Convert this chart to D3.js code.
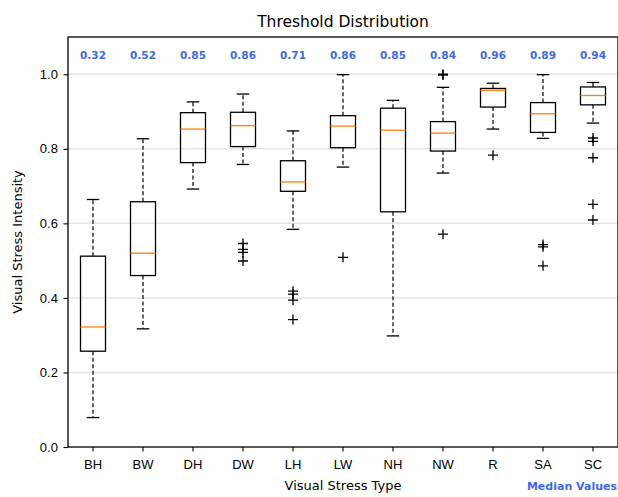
<!DOCTYPE html>
<html>
<head>
<meta charset="utf-8">
<script src="https://cdn.jsdelivr.net/npm/d3@7"></script>
<style>
  body { margin: 0; background: #fff; }
  svg { display: block; font-family: 'DejaVu Sans', sans-serif; }
</style>
</head>
<body>
<svg id="chart" width="618" height="497"></svg>
<script>
const categories = ['BH', 'BW', 'DH', 'DW', 'LH', 'LW', 'NH', 'NW', 'R', 'SA', 'SC']
const whiskerLow = [0.079, 0.317, 0.692, 0.758, 0.584, 0.751, 0.298, 0.735, 0.853, 0.828, 0.869]
const q1 = [0.257, 0.460, 0.763, 0.806, 0.686, 0.803, 0.631, 0.794, 0.912, 0.844, 0.918]
const medians = [0.322, 0.520, 0.853, 0.862, 0.711, 0.861, 0.850, 0.842, 0.957, 0.894, 0.943]
const q3 = [0.512, 0.658, 0.897, 0.898, 0.768, 0.889, 0.909, 0.873, 0.962, 0.924, 0.966]
const whiskerHigh = [0.664, 0.827, 0.926, 0.947, 0.848, 0.999, 0.930, 0.965, 0.976, 0.999, 0.978]
const outliers = [
  [],
  [],
  [],
  [0.546, 0.530, 0.522, 0.499],
  [0.418, 0.410, 0.394, 0.342],
  [0.509],
  [],
  [1.0, 0.998, 0.571],
  [0.783],
  [0.543, 0.537, 0.486],
  [0.829, 0.820, 0.776, 0.651, 0.609]
]
const yTicks = [0, 0.2, 0.4, 0.6, 0.8, 1.0]

const svg = d3.select('#chart')
const margin = {top: 37, right: 0, bottom: 50, left: 68}
const width = 618 - margin.left - margin.right
const height = 497 - margin.top - margin.bottom
const g = svg.append('g').attr('transform', 'translate(' + margin.left + ',' + margin.top + ')')

const x = d3.scaleBand().domain(categories).range([0, width]).padding(0)
const y = d3.scaleLinear().domain([0, 1.1]).range([height, 0])
const boxW = x.bandwidth() * 0.5
const capW = boxW * 0.5

// grid
g.selectAll('.grid')
  .data(yTicks.filter(d => d > 0))
  .enter().append('line')
  .attr('x1', 0).attr('x2', width)
  .attr('y1', d => y(d)).attr('y2', d => y(d))
  .attr('stroke', '#e4e4e4').attr('stroke-width', 1.5)

const boxes = g.selectAll('.box')
  .data(categories.map((c, i) => ({c, i})))
  .enter().append('g')
  .attr('transform', d => 'translate(' + (x(d.c) + x.bandwidth() / 2) + ',0)')

// whiskers
boxes.append('line')
  .attr('y1', d => y(q3[d.i])).attr('y2', d => y(whiskerHigh[d.i]))
  .attr('stroke', '#000').attr('stroke-width', 1.2).attr('stroke-dasharray', '4,2.5')
boxes.append('line')
  .attr('y1', d => y(q1[d.i])).attr('y2', d => y(whiskerLow[d.i]))
  .attr('stroke', '#000').attr('stroke-width', 1.2).attr('stroke-dasharray', '4,2.5')
boxes.append('line')
  .attr('x1', -capW / 2).attr('x2', capW / 2)
  .attr('y1', d => y(whiskerHigh[d.i])).attr('y2', d => y(whiskerHigh[d.i]))
  .attr('stroke', '#000').attr('stroke-width', 1.3)
boxes.append('line')
  .attr('x1', -capW / 2).attr('x2', capW / 2)
  .attr('y1', d => y(whiskerLow[d.i])).attr('y2', d => y(whiskerLow[d.i]))
  .attr('stroke', '#000').attr('stroke-width', 1.3)

// box
boxes.append('rect')
  .attr('x', -boxW / 2).attr('width', boxW)
  .attr('y', d => y(q3[d.i])).attr('height', d => y(q1[d.i]) - y(q3[d.i]))
  .attr('fill', 'none').attr('stroke', '#000').attr('stroke-width', 1.3)
boxes.append('line')
  .attr('x1', -boxW / 2).attr('x2', boxW / 2)
  .attr('y1', d => y(medians[d.i])).attr('y2', d => y(medians[d.i]))
  .attr('stroke', '#ff7f0e').attr('stroke-width', 1.3)

// outliers
boxes.selectAll('.flier')
  .data(d => outliers[d.i])
  .enter().append('path')
  .attr('d', v => 'M-5,' + y(v) + 'H5M0,' + (y(v) - 5) + 'V' + (y(v) + 5))
  .attr('stroke', '#000').attr('stroke-width', 1.3).attr('fill', 'none')

// median labels
boxes.append('text')
  .attr('y', 18).attr('dy', '0.35em')
  .attr('text-anchor', 'middle')
  .style('font-size', '10.5px').style('font-weight', 'bold')
  .style('fill', '#4169e1')
  .text(d => d3.format('.2f')(medians[d.i]))

// axes
const xAxis = g.append('g').attr('transform', 'translate(0,' + height + ')')
  .call(d3.axisBottom(x).tickSize(4.5).tickSizeOuter(0))
xAxis.selectAll('text').style('font-size', '13px').style('fill', '#000').attr('dy', '1.15em')
const yAxis = g.append('g')
  .call(d3.axisLeft(y).tickValues(yTicks).tickFormat(d3.format('.1f')).tickSize(4.5).tickSizeOuter(0))
yAxis.selectAll('text').style('font-size', '13px').style('fill', '#000').attr('dx', '-0.2em')
g.selectAll('.domain').remove()
g.selectAll('.tick line').attr('stroke', '#000').attr('stroke-width', 1.1)

// frame
g.append('rect').attr('x', 0).attr('y', 0).attr('width', width).attr('height', height)
  .attr('fill', 'none').attr('stroke', '#000').attr('stroke-width', 1.3)

// labels
svg.append('text').attr('x', margin.left + width / 2).attr('y', 27)
  .attr('text-anchor', 'middle').style('font-size', '15.5px').text('Threshold Distribution')
svg.append('text').attr('x', margin.left + width / 2).attr('y', 490)
  .attr('text-anchor', 'middle').style('font-size', '13px').text('Visual Stress Type')
svg.append('text')
  .attr('transform', 'translate(22,' + (margin.top + height / 2) + ') rotate(-90)')
  .attr('text-anchor', 'middle').style('font-size', '13px').text('Visual Stress Intensity')
svg.append('text').attr('x', 617).attr('y', 490)
  .attr('text-anchor', 'end').style('font-size', '11px').style('font-weight', 'bold')
  .style('fill', '#4169e1').text('Median Values')
</script>
</body>
</html>
